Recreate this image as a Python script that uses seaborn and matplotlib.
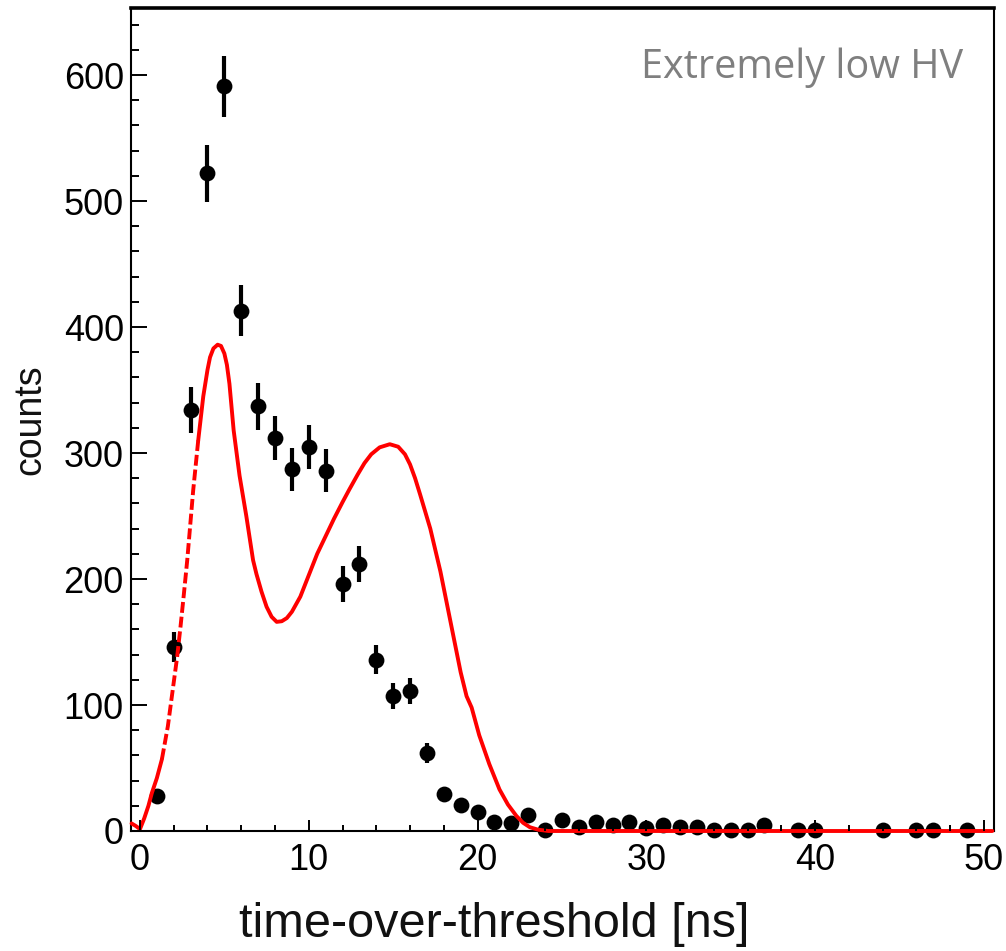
import numpy as np
import pandas as pd
import matplotlib
matplotlib.use("Agg")
import matplotlib.pyplot as plt
from matplotlib.ticker import MultipleLocator
import seaborn as sns

# ---- data ----
tot_ns = [1, 2, 3, 4, 5, 6, 7, 8, 9, 10, 11, 12, 13, 14, 15, 16, 17, 18, 19, 20,
          21, 22, 23, 24, 25, 26, 27, 28, 29, 30, 31, 32, 33, 34, 35, 36, 37,
          39, 40, 44, 46, 47, 49]
counts = [28, 146, 334, 522, 591, 413, 337, 312, 287, 305, 286, 196, 212, 136,
          107, 111, 62, 29, 21, 15, 7, 6, 13, 1, 9, 3, 7, 5, 7, 2, 5, 3, 3, 1,
          1, 1, 5, 1, 1, 1, 1, 1, 1]

fit_x = [-0.5, -0.25, 0.0, 0.25, 0.5, 0.7, 1.0, 1.3, 1.65, 1.9, 2.2, 2.4, 2.6,
         2.8, 3.15, 3.45, 3.75, 4.0, 4.15, 4.35, 4.6, 4.8, 5.0, 5.15, 5.3, 5.55,
         5.9, 6.3, 6.7, 6.9, 7.2, 7.5, 7.8, 8.1, 8.4, 8.7, 9.0, 9.5, 10.0, 10.5,
         11.0, 11.5, 12.0, 12.4, 12.9, 13.3, 13.7, 14.2, 14.8, 15.3, 15.7, 16.0,
         16.3, 16.6, 17.2, 17.8, 18.4, 19.0, 19.35, 19.65, 20.1, 20.7, 21.3,
         21.8, 22.3, 22.7, 23.1, 23.6, 24.2, 30.0, 40.0, 50.5]
fit_y = [6, 4, 1.5, 10, 20, 30, 42, 57, 83, 108, 138, 162, 188, 215, 270, 310,
         345, 366, 376, 383, 386, 385, 379, 370, 355, 318, 282, 250, 215, 204,
         190, 178, 170, 166, 166.5, 169, 174, 186, 203, 220, 234, 248, 261, 271,
         283, 292, 299, 304.5, 307, 305, 299, 291, 280, 267, 240, 206, 166, 126,
         107, 98, 76, 53, 33, 21, 12, 6.5, 3, 1, 0, 0, 0, 0]

x_ticks = [0, 10, 20, 30, 40, 50]
y_ticks = [0, 100, 200, 300, 400, 500, 600]
x_label = "time-over-threshold [ns]"
y_label = "counts"
annotation = "Extremely low HV"

# ---- figure ----
sns.set_theme(style="ticks")
plt.rcParams["font.family"] = ["Liberation Sans", "DejaVu Sans"]

fig = plt.figure(figsize=(10.06, 9.51), dpi=100)
ax = fig.add_axes([130.7 / 1006, 1 - 831 / 951, (994 - 130.7) / 1006, (831 - 8.3) / 951])

df = pd.DataFrame({"tot": tot_ns, "counts": counts})
fit = pd.DataFrame({"x": fit_x, "y": fit_y})

# error bars + markers
eb = ax.errorbar(df["tot"], df["counts"], yerr=np.sqrt(df["counts"]), fmt="none",
                 ecolor="black", elinewidth=3.0, capsize=0, zorder=1.6)
for coll in eb.lines[2]:
    coll.set_clip_on(False)
sns.scatterplot(data=df, x="tot", y="counts", ax=ax, color="black", s=130,
                linewidth=0, zorder=1.7, clip_on=False, legend=False)

# fit curve (steep rising part rendered dashed as in the reference)
seg_a = fit[fit["x"] <= 1.3]
seg_b = fit[(fit["x"] >= 1.3) & (fit["x"] <= 3.45)]
seg_c = fit[fit["x"] >= 3.45]
for seg, ls in [(seg_a, "-"), (seg_b, (0, (2.8, 1.0))), (seg_c, "-")]:
    sns.lineplot(data=seg, x="x", y="y", ax=ax, color="#ff0000", linewidth=2.8,
                 sort=False, estimator=None, linestyle=ls, zorder=2, clip_on=False)

ax.set_xlim(-0.55, 50.6)
ax.set_ylim(0, 653)
ax.set_xticks(x_ticks)
ax.set_yticks(y_ticks)
ax.xaxis.set_minor_locator(MultipleLocator(2))
ax.yaxis.set_minor_locator(MultipleLocator(20))
ax.set_axisbelow(False)

ax.tick_params(which="both", direction="in", top=False, right=False,
               colors="black", width=1.4)
ax.tick_params(axis="x", which="major", length=8, pad=9, labelsize=26)
ax.tick_params(axis="x", which="minor", length=4)
ax.tick_params(axis="y", which="major", length=11.5, pad=5, labelsize=26)
ax.tick_params(axis="y", which="minor", length=5.8)

for name, sp in ax.spines.items():
    sp.set_visible(True)
    sp.set_color("black")
    sp.set_linewidth(1.5)
    sp.set_zorder(1.9)
ax.spines["top"].set_linewidth(2.6)

ax.set_xlabel("")
ax.set_ylabel("")
fig.text(494 / 1006, (951 - 937) / 951, x_label, fontsize=35, ha="center",
         va="baseline", color="#111111")
fig.text(30 / 1006, 1 - 420 / 951, y_label, fontsize=27, rotation=90,
         ha="center", va="center", color="#111111")
ax.text(963 / 1006, 1 - 78 / 951, annotation, transform=fig.transFigure,
        fontsize=28.5, color="#7f7f7f", ha="right", va="baseline",
        family=["Open Sans", "DejaVu Sans"])

fig.savefig("out.png", dpi=100)
